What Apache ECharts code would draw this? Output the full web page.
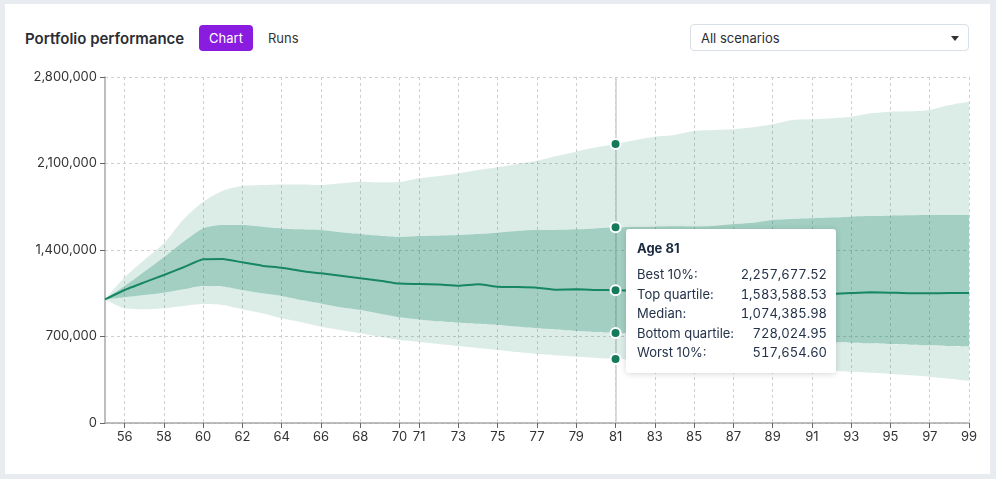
<!DOCTYPE html>
<html>
<head>
<meta charset="utf-8">
<script src="https://cdn.jsdelivr.net/npm/echarts@6/dist/echarts.min.js"></script>
<style>
  html, body { margin:0; padding:0; width:996px; height:479px; overflow:hidden; background:#e8ecf1; font-family: Inter, "Noto Sans", sans-serif; }
  #card { position:absolute; left:5px; top:4px; width:985px; height:470px; background:#fff; }
  #title { position:absolute; left:25px; top:29px; font-size:15px; font-weight:600; color:#2a2c33; line-height:20px; }
  #btnChart { position:absolute; left:199px; top:25px; width:54px; height:26px; background:#8a1ce0; color:#fff; border-radius:4px; font-size:13px; line-height:26px; text-align:center; }
  #btnRuns { position:absolute; left:268px; top:25px; height:26px; color:#333; font-size:13px; line-height:26px; }
  #select { position:absolute; left:690px; top:24px; width:279px; height:27px; border:1px solid #d9dfe6; border-radius:4px; background:#fff; box-sizing:border-box; }
  #select span { position:absolute; left:10px; top:0; line-height:26px; font-size:13px; color:#2a2c33; }
  #caret { position:absolute; right:9px; top:11px; width:0; height:0; border-left:4px solid transparent; border-right:4px solid transparent; border-top:5px solid #333; }
  #chart { position:absolute; left:0; top:0; width:996px; height:479px; }
</style>
</head>
<body>
<div id="card"></div>
<div id="title">Portfolio performance</div>
<div id="btnChart">Chart</div>
<div id="btnRuns">Runs</div>
<div id="select"><span>All scenarios</span><div id="caret"></div></div>
<div id="chart"></div>
<script>
// ---- data ----
const ages = [55,56,57,58,59,60,61,62,63,64,65,66,67,68,69,70,71,72,73,74,75,76,77,78,79,80,81,82,83,84,85,86,87,88,89,90,91,92,93,94,95,96,97,98,99];
const best10 = [1000000,1180000,1320000,1454000,1648000,1790000,1880000,1918000,1926000,1931000,1931000,1926000,1940000,1953000,1948000,1950000,
  1980000,1999000,2020000,2047000,2069000,2096000,2123000,2161000,2196000,2231000,2257677.52,
  2290000,2317000,2331000,2363000,2371000,2377000,2393000,2417000,2452000,2458000,2466000,2479000,2506000,2519000,2522000,2533000,2573000,2600000];
const topQuartile = [1000000,1108000,1224000,1341000,1467000,1575000,1602000,1602000,1589000,1575000,1567000,1562000,1543000,1529000,1515000,1506000,
  1514000,1516000,1521000,1529000,1540000,1554000,1562000,1562000,1567000,1575000,1583588.53,
  1586000,1589000,1592000,1590000,1594000,1610000,1621000,1643000,1651000,1656000,1662000,1670000,1675000,1678000,1681000,1683000,1684000,1684000];
const median = [1000000,1076000,1138000,1198000,1260000,1325000,1327000,1300000,1273000,1257000,1230000,1211000,1192000,1171000,1152000,1128000,
  1125000,1120000,1111000,1122000,1103000,1100000,1095000,1079000,1082000,1077000,1074385.98,
  1072000,1071000,1068000,1065000,1063000,1060000,1057000,1053000,1050000,1047000,1045000,1052000,1058000,1055000,1050000,1050000,1052000,1052000];
const bottomQuartile = [1000000,1017000,1036000,1055000,1082000,1109000,1105000,1076000,1049000,1028000,995000,968000,936000,914000,884000,855000,
  838000,823000,812000,803000,793000,780000,766000,756000,745000,736000,728024.95,
  722000,715000,709000,703000,696000,689000,682000,674000,667000,660000,653000,650000,645000,639000,634000,629000,623000,618000];
const worst10 = [1000000,928000,920000,928000,947000,963000,955000,920000,888000,847000,815000,779000,753000,726000,698000,672000,
  656000,640000,623000,607000,591000,574000,558000,547000,537000,527000,517654.60,
  509000,502000,493000,485000,476000,466000,458000,449000,440000,431000,423000,415000,406000,397000,386000,375000,358000,340000];
const xTicks = [56,58,60,62,64,66,68,70,71,73,75,77,79,81,83,85,87,89,91,93,95,97,99];
const yTicks = [0,700000,1400000,2100000,2800000];
const hoverAge = 81;

// ---- chart ----
const green = '#157a5b';
const light = 'rgba(21,122,91,0.15)';
const dark = 'rgba(21,122,91,0.40)';
const diff = (hi, lo) => hi.map((v,i)=> v - lo[i]);
const fmt = v => v.toLocaleString('en-US',{minimumFractionDigits:2, maximumFractionDigits:2});
const isTick = (i, v) => xTicks.indexOf(Number(v)) >= 0;

const dot = { color: green, borderColor:'#fff', borderWidth:2 };
const base = { type:'line', showSymbol:false, symbol:'circle', symbolSize:10, smooth:0.25, z:3, emphasis:{ scale:false, focus:'none' }, itemStyle:dot };

const chart = echarts.init(document.getElementById('chart'), null, {renderer:'canvas'});
chart.setOption({
  animation:false,
  textStyle:{ fontFamily:'Inter, "Noto Sans", sans-serif' },
  grid:{ left:105, top:77, width:864, height:346, containLabel:false },
  xAxis:{ type:'category', data:ages.map(String), boundaryGap:false,
    axisLine:{ lineStyle:{ color:'#a8a8a8', width:1.5 } },
    axisTick:{ interval:isTick, length:5, lineStyle:{ color:'#666' } },
    axisLabel:{ interval:isTick, color:'#333', fontSize:13, margin:8 },
    splitLine:{ show:true, interval:isTick, lineStyle:{ color:'#cfcfcf', type:[3,3], width:1 } } },
  yAxis:{ type:'value', min:yTicks[0], max:yTicks[yTicks.length-1], interval:yTicks[1]-yTicks[0],
    axisLine:{ show:true, lineStyle:{ color:'#a8a8a8', width:1.5 } },
    axisTick:{ show:true, length:5, lineStyle:{ color:'#666' } },
    axisLabel:{ color:'#333', fontSize:13, margin:8, formatter: v => v.toLocaleString('en-US') },
    splitLine:{ show:true, lineStyle:{ color:'#cfcfcf', type:[3,3], width:1 } } },
  tooltip:{ trigger:'axis', alwaysShowContent:true, transitionDuration:0, padding:0, borderWidth:0, backgroundColor:'#fff',
    extraCssText:'box-shadow:0 1px 6px rgba(0,0,0,0.16);border-radius:3px;',
    position:[626,229],
    axisPointer:{ type:'line', z:1, lineStyle:{ color:'#cfcfcf', width:1.5, type:'solid' }, label:{show:false} },
    formatter: params => {
      const i = params[0].dataIndex;
      const rows = [['Best 10%:', best10[i]],['Top quartile:', topQuartile[i]],['Median:', median[i]],['Bottom quartile:', bottomQuartile[i]],['Worst 10%:', worst10[i]]];
      let h = '<div style="width:190px;padding:10px 9px 10px 11px;font-family:Inter,\'Noto Sans\',sans-serif;color:#23324a;font-size:13px;">';
      h += '<div style="font-weight:700;line-height:18px;margin-bottom:8px;color:#1b2a3f;">Age '+ages[i]+'</div>';
      rows.forEach(r=>{ h += '<div style="display:flex;justify-content:space-between;line-height:19.5px;"><span>'+r[0]+'</span><span style="font-variant-numeric:tabular-nums;font-feature-settings:\'tnum\';">'+fmt(r[1])+'</span></div>'; });
      return h + '</div>';
    } },
  series:[
    Object.assign({}, base, { name:'Worst 10%', stack:'band', data:worst10, lineStyle:{ opacity:0 } }),
    Object.assign({}, base, { name:'Bottom quartile', stack:'band', data:diff(bottomQuartile, worst10), lineStyle:{ opacity:0 }, areaStyle:{ color:light, opacity:1 } }),
    Object.assign({}, base, { name:'Top quartile', stack:'band', data:diff(topQuartile, bottomQuartile), lineStyle:{ opacity:0 }, areaStyle:{ color:dark, opacity:1 } }),
    Object.assign({}, base, { name:'Best 10%', stack:'band', data:diff(best10, topQuartile), lineStyle:{ opacity:0 }, areaStyle:{ color:light, opacity:1 } }),
    Object.assign({}, base, { name:'Median', data:median, smooth:0.15, lineStyle:{ color:green, width:2 } })
  ]
});
const idx = ages.indexOf(hoverAge);
const p = chart.convertToPixel({gridIndex:0}, [idx, topQuartile[idx]]);
chart.dispatchAction({ type:'showTip', x:p[0], y:p[1] });
</script>
</body>
</html>
